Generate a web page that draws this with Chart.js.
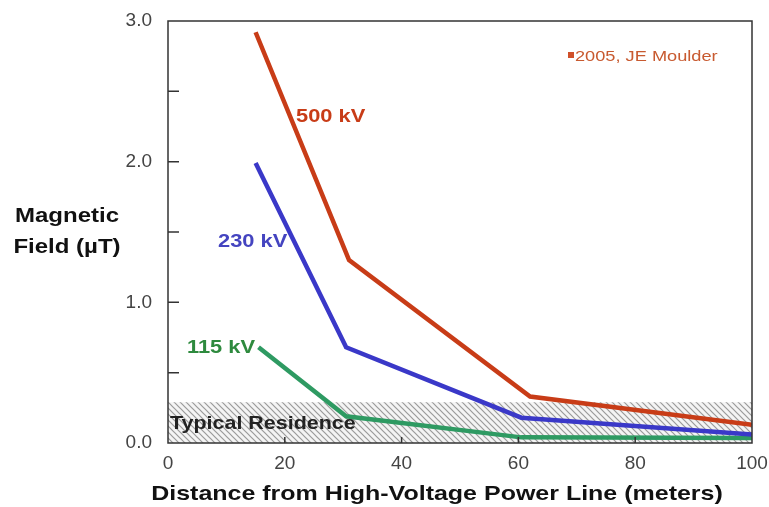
<!DOCTYPE html>
<html>
<head>
<meta charset="utf-8">
<script src="https://cdn.jsdelivr.net/npm/chart.js@4/dist/chart.umd.min.js"></script>
<style>
html,body{margin:0;padding:0;background:#fff;}
#wrap{position:relative;width:769px;height:507px;}
</style>
</head>
<body>
<div id="wrap"><canvas id="c" width="769" height="507"></canvas></div>
<script>
// ---- data ----
const distance500 = [15, 31, 62, 100];
const field500    = [2.92, 1.30, 0.33, 0.13];
const distance230 = [15, 30.5, 60.5, 100];
const field230    = [1.99, 0.68, 0.18, 0.06];
const distance115 = [15.5, 30.5, 60.5, 100];
const field115    = [0.68, 0.19, 0.04, 0.035];
const residenceX  = [0, 100];
const residenceY  = [0.29, 0.29];
const xTicks = [0, 20, 40, 60, 80, 100];
const yTicks = [0, 1, 2, 3];
const seriesNames = ['500 kV', '230 kV', '115 kV'];

const toPts = (xs, ys) => xs.map((x, i) => ({x, y: ys[i]}));
const FAM = '"Liberation Sans", Arial, sans-serif';

// hatch pattern
function hatch() {
  const p = document.createElement('canvas');
  p.width = 6; p.height = 6;
  const g = p.getContext('2d');
  g.fillStyle = '#f4f4f4';
  g.fillRect(0, 0, 6, 6);
  g.strokeStyle = '#9a9a9a';
  g.lineWidth = 1.2;
  g.beginPath();
  g.moveTo(-1, -1); g.lineTo(7, 7);
  g.moveTo(-4, 2); g.lineTo(4, 10);
  g.moveTo(2, -4); g.lineTo(10, 4);
  g.stroke();
  return g.createPattern(p, 'repeat');
}

const C500 = '#c83c17', C230 = '#3a38c8', C115 = '#2e9a62';

function txt(ctx, s, x, y, font, color, align, sx) {
  ctx.save();
  ctx.font = font;
  ctx.fillStyle = color;
  ctx.textBaseline = 'middle';
  ctx.textAlign = align;
  ctx.translate(x, y);
  ctx.scale(sx, 1);
  ctx.fillText(s, 0, 0);
  ctx.restore();
}

const decor = {
  id: 'decor',
  afterDatasetsDraw(chart) {
    const {ctx, chartArea: a, scales: {x, y}} = chart;
    ctx.save();
    // frame
    ctx.strokeStyle = '#333';
    ctx.lineWidth = 1.5;
    ctx.strokeRect(a.left, a.top, a.right - a.left, a.bottom - a.top);
    // inward ticks
    ctx.beginPath();
    for (let v = 0.5; v < 3; v += 0.5) {
      const py = y.getPixelForValue(v);
      ctx.moveTo(a.left, py); ctx.lineTo(a.left + 11, py);
    }
    xTicks.slice(1, -1).forEach(v => {
      const px = x.getPixelForValue(v);
      ctx.moveTo(px, a.bottom); ctx.lineTo(px, a.bottom - 6);
    });
    ctx.stroke();
    ctx.restore();
    const B = s => 'bold ' + s + 'px ' + FAM;
    // series labels
    txt(ctx, seriesNames[0], 296, 117, B(19), C500, 'left', 1.15);
    txt(ctx, seriesNames[1], 218, 242, B(19), '#4444c0', 'left', 1.15);
    txt(ctx, seriesNames[2], 187, 348, B(19), '#2e8a3e', 'left', 1.15);
    txt(ctx, 'Typical Residence', 170, 424, B(19), '#222', 'left', 1.13);
    // credit
    ctx.save();
    ctx.fillStyle = '#d0502a';
    ctx.fillRect(568, 52, 6, 6);
    ctx.restore();
    txt(ctx, '2005, JE Moulder', 575, 57, '14px ' + FAM, '#c85a30', 'left', 1.3);
    // axis titles
    txt(ctx, 'Magnetic', 67, 216, B(20), '#111', 'center', 1.2);
    txt(ctx, 'Field (\u00B5T)', 67, 247, B(20), '#111', 'center', 1.2);
    txt(ctx, 'Distance from High-Voltage Power Line (meters)', 437, 494, B(21), '#111', 'center', 1.19);
  }
};

const lineDs = (label, xs, ys, color) => ({
  label, data: toPts(xs, ys), borderColor: color, backgroundColor: color,
  borderWidth: 4.5, pointRadius: 0, tension: 0, fill: false, order: 1,
  borderJoinStyle: 'miter', borderCapStyle: 'butt'
});

new Chart(document.getElementById('c'), {
  type: 'line',
  data: {
    datasets: [
      lineDs(seriesNames[0], distance500, field500, C500),
      lineDs(seriesNames[1], distance230, field230, C230),
      lineDs(seriesNames[2], distance115, field115, C115),
      {
        label: 'Typical Residence', data: toPts(residenceX, residenceY),
        borderWidth: 0, borderColor: 'rgba(0,0,0,0)', pointRadius: 0,
        fill: 'origin', backgroundColor: hatch(), order: 10
      }
    ]
  },
  options: {
    responsive: false,
    animation: false,
    devicePixelRatio: 1,
    layout: {padding: {top: 21, right: 17, left: 0, bottom: 0}},
    plugins: {legend: {display: false}, tooltip: {enabled: false}},
    scales: {
      x: {
        type: 'linear', min: 0, max: 100,
        afterBuildTicks: s => { s.ticks = xTicks.map(v => ({value: v})); },
        grid: {display: false},
        border: {display: false},
        ticks: {color: '#444', font: {size: 19, family: FAM}, padding: 1, maxRotation: 0},
        afterFit: s => { s.height = 64; }
      },
      y: {
        min: 0, max: 3,
        afterBuildTicks: s => { s.ticks = yTicks.map(v => ({value: v})); },
        grid: {display: false},
        border: {display: false},
        ticks: {color: '#444', font: {size: 19, family: FAM}, padding: 8,
                callback: v => v.toFixed(1)},
        afterFit: s => { s.width = 168; }
      }
    }
  },
  plugins: [decor]
});
</script>
</body>
</html>
